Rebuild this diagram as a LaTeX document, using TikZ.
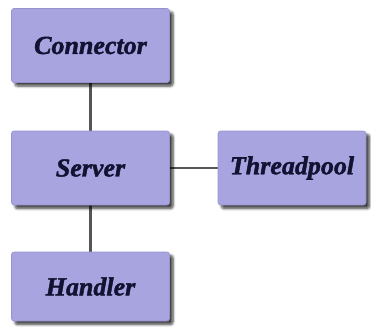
\documentclass[tikz,border=0pt]{standalone}
\usepackage{fontspec}
\setmainfont{Liberation Serif}[BoldItalicFeatures={FakeBold=1.6}]
\usetikzlibrary{shadows.blur,backgrounds}
\definecolor{boxfill}{RGB}{168,164,224}
\definecolor{boxedge}{RGB}{150,146,210}
\definecolor{labelink}{RGB}{18,18,50}
\definecolor{linkgray}{RGB}{85,85,85}
\tikzset{
  comp/.style={draw=boxedge, line width=0.6pt, fill=boxfill, rounded corners=2.5pt,
    minimum width=158pt, minimum height=74pt, inner sep=0pt,
    text=labelink, font=\fontsize{26}{30}\selectfont\bfseries\itshape,
    blur shadow={shadow xshift=3.5pt, shadow yshift=-3.5pt, shadow blur steps=6,
      shadow blur radius=2.5pt, shadow opacity=75}},
  link/.style={draw=linkgray, line width=2.8pt}
}
\begin{document}
\begin{tikzpicture}[x=1pt,y=-1pt]
  \useasboundingbox (0,0) rectangle (371,327);
  \node[comp] (conn) at (90.5,45.5) {Connector};
  \node[comp] (serv) at (90.5,168) {Server};
  \node[comp, minimum width=148pt] (pool) at (292,168) {Threadpool};
  \node[comp, minimum height=69pt] (hand) at (90.5,286.5) {Handler};
  \begin{scope}[on background layer]
    \draw[link] (conn) -- (serv);
    \draw[link] (serv) -- (pool);
    \draw[link] (serv) -- (hand);
  \end{scope}
\end{tikzpicture}
\end{document}
